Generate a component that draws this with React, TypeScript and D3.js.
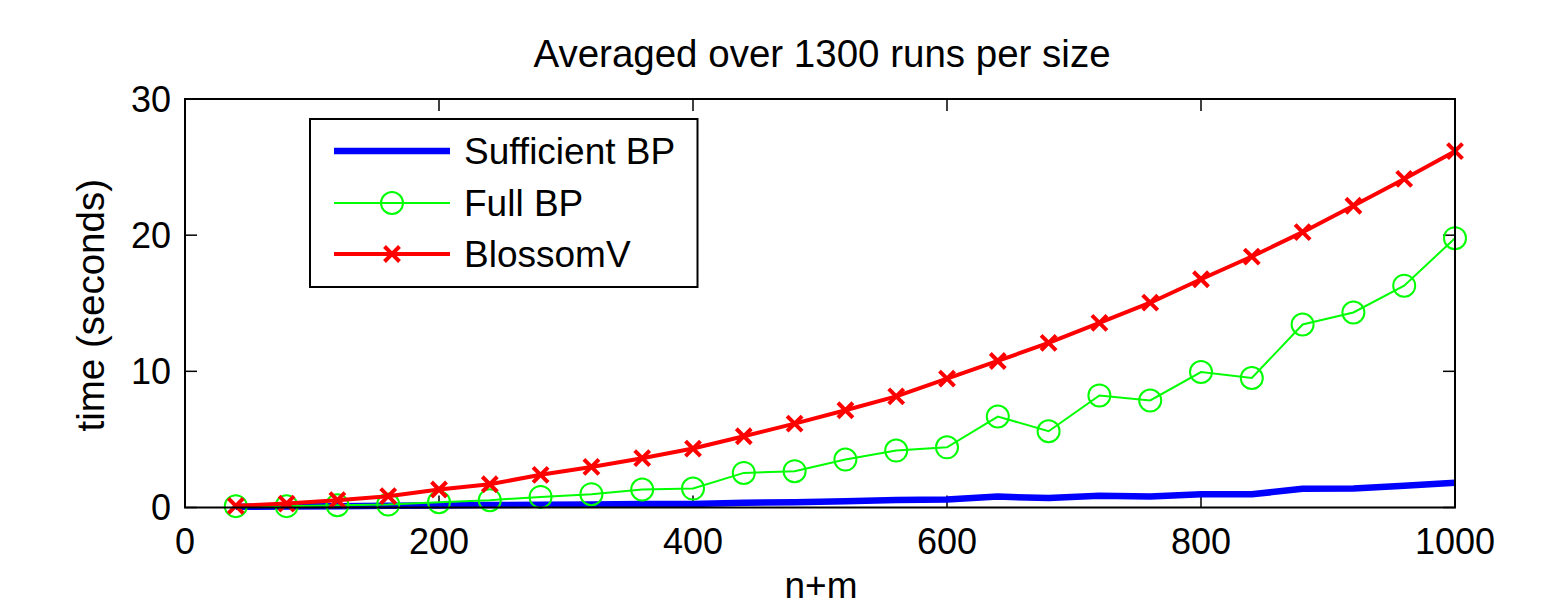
import React from "react";
import * as d3 from "d3";

const sizes = [40, 80, 120, 160, 200, 240, 280, 320, 360, 400, 440, 480, 520, 560, 600, 640, 680, 720, 760, 800, 840, 880, 920, 960, 1000];
const sufficientBP = [0.05, 0.07, 0.1, 0.12, 0.15, 0.18, 0.2, 0.22, 0.25, 0.25, 0.35, 0.38, 0.46, 0.55, 0.58, 0.8, 0.69, 0.87, 0.81, 0.97, 0.97, 1.37, 1.4, 1.6, 1.82];
const fullBP = [0.1, 0.1, 0.17, 0.22, 0.39, 0.54, 0.78, 0.98, 1.32, 1.39, 2.54, 2.67, 3.52, 4.18, 4.42, 6.68, 5.6, 8.23, 7.86, 9.95, 9.51, 13.44, 14.32, 16.29, 19.78];
const blossomV = [0.12, 0.29, 0.54, 0.83, 1.32, 1.71, 2.4, 2.98, 3.62, 4.33, 5.23, 6.16, 7.14, 8.16, 9.46, 10.76, 12.09, 13.56, 15.04, 16.76, 18.43, 20.22, 22.16, 24.13, 26.17];
const xTicks = [0, 200, 400, 600, 800, 1000];
const yTicks = [0, 10, 20, 30];
const legendLabels = ["Sufficient BP", "Full BP", "BlossomV"];
const title = "Averaged over 1300 runs per size";
const xLabel = "n+m";
const yLabel = "time (seconds)";

const W = 1544;
const H = 605;
const L = 185, R = 1455, T = 99, B = 507.5;
const FONT = "'Liberation Sans', Arial, Helvetica, sans-serif";
const FS = 36;
const TICK = 12;

export default function App() {
  const x = d3.scaleLinear().domain([0, 1000]).range([L, R]);
  const y = d3.scaleLinear().domain([0, 30]).range([B, T]);
  const line = d3.line<number>().x((_, i) => x(sizes[i])).y((v) => y(v));

  const cross = (cx: number, cy: number, s: number, key: string, sw: number) => (
    <path key={key} d={`M${cx - s},${cy - s}L${cx + s},${cy + s}M${cx - s},${cy + s}L${cx + s},${cy - s}`} stroke="#ff0000" strokeWidth={sw} fill="none" />
  );

  const legX = 310, legY = 119, legW = 387.5, legH = 168;
  const rows = [151, 203, 254];
  const lineX0 = 334, lineX1 = 450, mX = 392, textX = 464;

  return (
    <svg width={W} height={H} style={{ position: "absolute", left: 0, top: 0, background: "#fff" }} fontFamily={FONT}>
      <rect x={0} y={0} width={W} height={H} fill="#fff" />
      {/* title */}
      <text x={(L + R) / 2 + 2} y={67} fontSize={38.5} textAnchor="middle" fill="#000">{title}</text>

      {/* ticks */}
      {xTicks.map((t) => (
        <g key={"xt" + t}>
          <line x1={x(t)} x2={x(t)} y1={B} y2={B - TICK} stroke="#000" strokeWidth={1.5} />
          <line x1={x(t)} x2={x(t)} y1={T} y2={T + TICK} stroke="#000" strokeWidth={1.5} />
          <text x={x(t)} y={554} fontSize={FS} textAnchor="middle" fill="#000">{t}</text>
        </g>
      ))}
      {yTicks.map((t) => (
        <g key={"yt" + t}>
          <line x1={L} x2={L + TICK} y1={y(t)} y2={y(t)} stroke="#000" strokeWidth={1.5} />
          <line x1={R} x2={R - TICK} y1={y(t)} y2={y(t)} stroke="#000" strokeWidth={1.5} />
          <text x={171} y={y(t)} dy="0.36em" fontSize={FS} textAnchor="end" fill="#000">{t}</text>
        </g>
      ))}

      {/* axis labels */}
      <text x={(L + R) / 2 + 1} y={598} fontSize={37} textAnchor="middle" fill="#000">{xLabel}</text>
      <text transform={`translate(104,${(T + B) / 2 + 2}) rotate(-90)`} fontSize={38.5} textAnchor="middle" fill="#000">{yLabel}</text>

      {/* series */}
      <path d={line(sufficientBP) || ""} stroke="#0000ff" strokeWidth={6.5} fill="none" strokeLinejoin="round" />
      <path d={line(fullBP) || ""} stroke="#00ff00" strokeWidth={2} fill="none" />
      {fullBP.map((v, i) => (
        <circle key={"c" + i} cx={x(sizes[i])} cy={y(v)} r={11} stroke="#00ff00" strokeWidth={2} fill="none" />
      ))}
      <path d={line(blossomV) || ""} stroke="#ff0000" strokeWidth={4} fill="none" strokeLinejoin="round" />
      {blossomV.map((v, i) => cross(x(sizes[i]), y(v), 7.5, "x" + i, 4))}

      {/* box */}
      <rect x={L} y={T} width={R - L} height={B - T} fill="none" stroke="#000" strokeWidth={2} />

      {/* legend */}
      <rect x={legX} y={legY} width={legW} height={legH} fill="#fff" stroke="#000" strokeWidth={2} />
      <line x1={lineX0} x2={lineX1} y1={rows[0]} y2={rows[0]} stroke="#0000ff" strokeWidth={6.5} />
      <line x1={lineX0} x2={lineX1} y1={rows[1]} y2={rows[1]} stroke="#00ff00" strokeWidth={2} />
      <circle cx={mX} cy={rows[1]} r={11} stroke="#00ff00" strokeWidth={2} fill="none" />
      <line x1={lineX0} x2={lineX1} y1={rows[2]} y2={rows[2]} stroke="#ff0000" strokeWidth={4} />
      {cross(mX, rows[2], 7.5, "lx", 4)}
      {legendLabels.map((l, i) => (
        <text key={l} x={textX} y={rows[i]} dy="0.36em" fontSize={37} fill="#000">{l}</text>
      ))}
    </svg>
  );
}
